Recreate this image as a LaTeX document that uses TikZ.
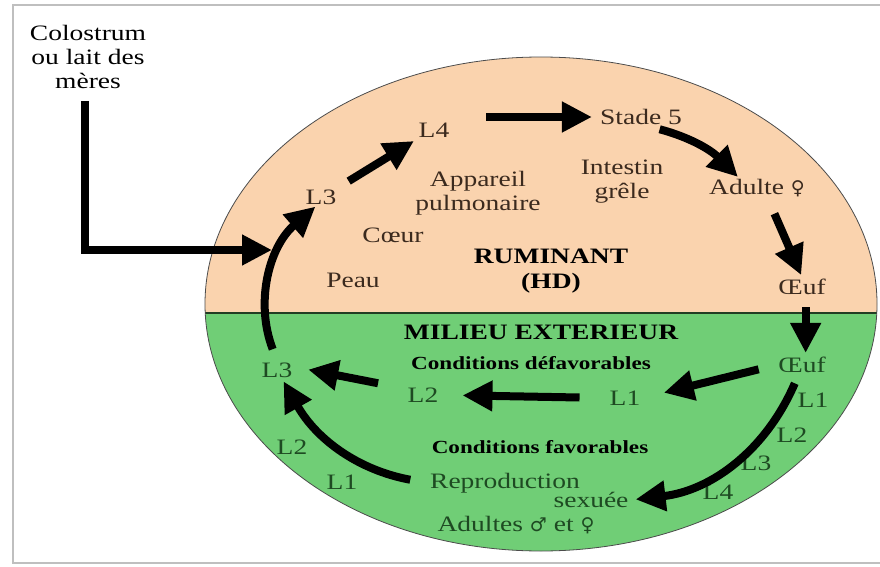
\documentclass[tikz,border=0pt]{standalone}
\usepackage{fontspec}
\setmainfont{Liberation Serif}[FakeStretch=1.25]
\newfontfamily\gendfont{DejaVu Sans}
\usepackage{tikz}
\usetikzlibrary{arrows.meta}
\definecolor{peach}{HTML}{FAD3AE}
\definecolor{grass}{HTML}{70CE76}
\definecolor{inktop}{HTML}{3B2A1E}
\definecolor{inkbot}{HTML}{1E4A22}
\newcommand{\fem}{{\gendfont\fontsize{19}{22}\selectfont ♀}}
\newcommand{\masc}{{\gendfont\fontsize{19}{22}\selectfont ♂}}

\begin{document}
\begin{tikzpicture}[x=1pt,y=1pt,
 lbl/.style={inner sep=2pt,font=\fontsize{22}{24}\selectfont,text=inktop,align=center},
 lblg/.style={lbl,text=inkbot},
 ttl/.style={inner sep=2pt,font=\fontsize{22}{25}\selectfont\bfseries,align=center},
 cond/.style={inner sep=2pt,font=\fontsize{18.5}{21}\selectfont\bfseries},
 fat/.style={-{Triangle[length=30pt,width=29pt]},line width=8pt}]
\useasboundingbox (0,0) rectangle (880,566);
\fill[white] (0,0) rectangle (880,566);
\draw[black!25,line width=2pt] (880,561) -- (13,561) -- (13,3) -- (880,3);
% host (top) and outside (bottom)
\begin{scope}
\clip (541,262) ellipse [x radius=336,y radius=247];
\fill[peach] (200,253) rectangle (880,515);
\fill[grass] (200,10) rectangle (880,253);
\draw[black!70!grass,line width=1.5pt] (200,253) -- (880,253);
\end{scope}
\draw[black!70,line width=0.8pt] (541,262) ellipse [x radius=336,y radius=247];

\node[lbl,text=black] (col) at (88,509) {Colostrum\\ou lait des\\mères};
\node[lbl] (l3a) at (321,369) {L3};
\node[lbl] (l4a) at (434,436) {L4};
\node[lbl] (st5) at (641,449) {Stade 5};
\node[lbl] (intes) at (622,384) {Intestin\\grêle};
\node[lbl] (pulm) at (478,373) {Appareil\\pulmonaire};
\node[lbl] (adf) at (757,378) {Adulte \fem};
\node[lbl] (coeur) at (393,331) {Cœur};
\node[lbl] (peau) at (353,286) {Peau};
\node[ttl] (rum) at (551,295) {RUMINANT\\(HD)};
\node[lbl] (oeufa) at (802,279) {Œuf};

\node[ttl] (mil) at (541,234) {MILIEU EXTERIEUR};
\node[cond] (cdef) at (531,203) {Conditions défavorables};
\node[lblg] (oeufb) at (802,201) {Œuf};
\node[lblg] (l3b) at (277,196) {L3};
\node[lblg] (l2m) at (423,171) {L2};
\node[lblg] (l1m) at (625,168) {L1};
\node[lblg] (l1r) at (813,166) {L1};
\node[lblg] (l2r) at (792,131) {L2};
\node[cond] (cfav) at (540,119) {Conditions favorables};
\node[lblg] (l2l) at (292,119) {L2};
\node[lblg] (l3r) at (756,103) {L3};
\node[lblg] (l1l) at (342,84) {L1};
\node[lblg] (repro) at (505,83) {Reproduction};
\node[lblg] (sexu) at (591,66) {sexuée};
\node[lblg] (l4r) at (718,74) {L4};
\node[lblg] (adu) at (516,41) {Adultes \masc{} et \fem};

\coordinate (colbend) at (85,316);
\coordinate (entry) at (272,316);
\draw[fat,shorten <=10pt] (col.south -| colbend) -- (colbend) -- (entry);
\draw[fat,shorten <=12pt] (l3b.north) to[bend left=35] (l3a.-120);
\draw[fat,shorten <=12pt,shorten >=3pt] (l3a.north east) -- (l4a.south west);
\draw[fat,shorten <=35pt,shorten >=6pt] (l4a.east |- st5) -- (st5.west);
\draw[fat,shorten <=9pt] (st5.-45) to[bend left=15] (adf.150);
\draw[fat,shorten <=16pt,shorten >=2pt] (adf.-45) -- (oeufa.north);
\draw[fat,shorten <=10pt,shorten >=2pt] (oeufa.-70) -- (oeufb.70);
\draw[fat,shorten <=18pt,shorten >=22pt] (oeufb.west) -- (l1m.east);
\draw[fat,shorten <=28pt,shorten >=22pt] (l1m.west) -- (l2m.east);
\draw[fat,shorten <=28pt,shorten >=14pt] (l2m.160) -- (l3b.10);
\draw[fat,shorten <=9pt,shorten >=5pt] (oeufb.-110) to[bend left=30] (sexu.east);
\draw[fat,shorten <=18pt,shorten >=2pt] (repro.west) to[bend left=25] (l3b.-60);
\end{tikzpicture}
\end{document}
